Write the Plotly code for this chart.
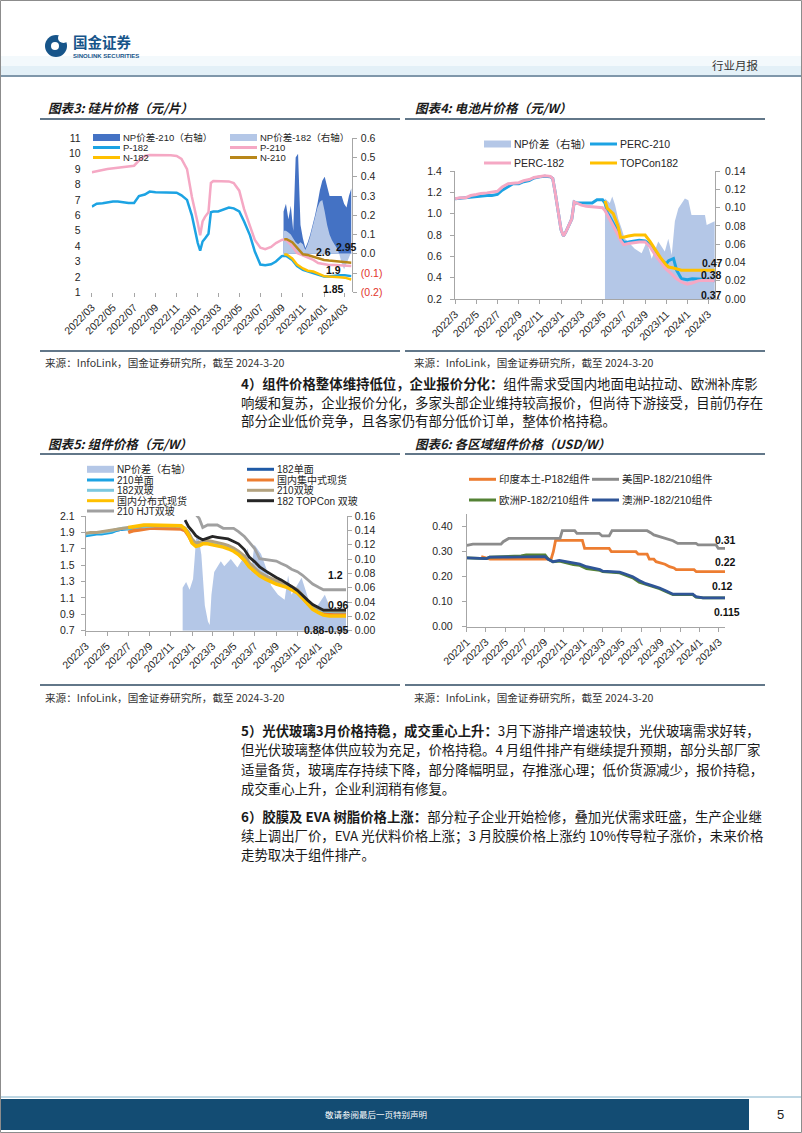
import plotly.graph_objects as go

W, H = 802, 1133


def X(px):
    return px / W


def Y(py):
    return 1 - py / H


LAT = "Liberation Sans, Arial, Noto Sans CJK SC, sans-serif"
CJK = "Noto Sans CJK SC, Noto Sans, sans-serif"
AX = "#A6A6A6"
TXT = "#262626"
RED = "#E2332B"

# ---------------- 图表3：硅片价格（元/片） ----------------
wafer_dates = [
    "2022-03-01", "2022-03-15", "2022-04-01", "2022-04-15", "2022-05-01", "2022-05-15",
    "2022-06-01", "2022-06-15", "2022-07-01", "2022-07-15", "2022-08-01", "2022-08-15",
    "2022-09-01", "2022-09-15", "2022-10-01", "2022-10-15", "2022-11-01", "2022-11-15",
    "2022-12-01", "2022-12-15",
    "2023-01-01", "2023-01-08", "2023-01-15", "2023-01-22", "2023-02-01", "2023-02-08",
    "2023-02-15", "2023-03-01", "2023-03-15", "2023-04-01", "2023-04-15", "2023-05-01",
    "2023-05-15", "2023-06-01", "2023-06-15", "2023-07-01", "2023-07-15", "2023-08-01",
    "2023-08-15", "2023-09-01", "2023-09-08", "2023-09-15", "2023-10-01", "2023-10-15",
    "2023-11-01", "2023-11-15", "2023-12-01", "2023-12-15",
    "2024-01-01", "2024-01-15", "2024-02-01", "2024-02-15", "2024-03-01", "2024-03-20",
]
wafer_p182 = [
    6.56, 6.75, 6.78, 6.84, 6.90, 6.90, 6.84, 6.80, 6.80, 7.25, 7.35, 7.54, 7.50, 7.50,
    7.50, 7.48, 7.47, 7.30, 7.00, 6.00,
    4.20, 3.70, 4.30, 4.50, 4.80, 6.20, 6.25, 6.25, 6.35, 6.50, 6.45, 6.25, 5.60, 4.70,
    3.65, 2.80, 2.75, 2.82, 3.00, 3.35, 3.38, 3.35, 3.10, 2.70, 2.45, 2.35, 2.25, 2.10,
    2.02, 2.02, 2.08, 2.10, 2.10, 2.05,
]
wafer_p210 = [
    8.79, 8.88, 8.94, 9.00, 9.05, 9.10, 9.16, 9.20, 9.22, 9.55, 9.85, 9.92, 9.92, 9.92,
    9.92, 9.90, 9.85, 9.66, 9.00, 7.20,
    5.50, 4.70, 5.60, 5.90, 6.20, 8.10, 8.23, 8.23, 8.23, 8.20, 8.10, 7.60, 6.40, 5.30,
    4.40, 3.90, 3.80, 3.95, 4.20, 4.40, 4.42, 4.35, 4.00, 3.55, 3.40, 3.25, 3.10, 2.90,
    2.82, 2.78, 2.78, 2.75, 2.73, 2.70,
]
wafer_n182 = [None] * 40 + [
    3.45, 3.45, 3.20, 2.80, 2.55, 2.40, 2.35, 2.22,
    2.05, 2.02, 2.02, 1.98, 1.95, 1.83,
]
wafer_n210 = [None] * 40 + [
    4.45, 4.45, 4.25, 3.90, 3.47, 3.42, 3.32, 3.20,
    3.10, 3.06, 3.03, 3.00, 2.98, 2.92,
]
wafer_np_dates = [
    "2023-09-06", "2023-09-13", "2023-09-20", "2023-09-27", "2023-10-04", "2023-10-11",
    "2023-10-18", "2023-10-25", "2023-11-01", "2023-11-08", "2023-11-15", "2023-11-22",
    "2023-11-29", "2023-12-06", "2023-12-13", "2023-12-20", "2023-12-27", "2024-01-03",
    "2024-01-10", "2024-01-17", "2024-01-24", "2024-01-31", "2024-02-07", "2024-02-14",
    "2024-02-21", "2024-02-28", "2024-03-06", "2024-03-13", "2024-03-20",
]
wafer_np210 = [
    0.22, 0.26, 0.18, 0.25, 0.12, 0.50, 0.52, 0.15, 0.08, 0.03, 0.06, 0.10, 0.15, 0.20,
    0.26, 0.33, 0.38, 0.40, 0.35, 0.30, 0.30, 0.30, 0.30, 0.30, 0.30, 0.26, 0.24, 0.30, 0.34,
]
wafer_np182 = [
    0.12, 0.12, 0.11, 0.10, 0.08, 0.06, 0.05, 0.06, 0.05, 0.02, 0.05, 0.09, 0.14, 0.19,
    0.24, 0.27, 0.28, 0.22, 0.15, 0.10, 0.07, 0.05, 0.03, 0.00, -0.05, -0.08, -0.05, -0.02, 0.01,
]
wafer_left_ticks = [1, 2, 3, 4, 5, 6, 7, 8, 9, 10, 11]
wafer_right_ticks = [-0.2, -0.1, 0.0, 0.1, 0.2, 0.3, 0.4, 0.5, 0.6]
wafer_right_labels = ["(0.2)", "(0.1)", "0.0", "0.1", "0.2", "0.3", "0.4", "0.5", "0.6"]

# ---------------- 图表4：电池片价格（元/W） ----------------
cell_dates = [
    "2022-03-01", "2022-03-15", "2022-04-01", "2022-04-15", "2022-05-01", "2022-05-15",
    "2022-06-01", "2022-06-15", "2022-07-01", "2022-07-15", "2022-08-01", "2022-08-15",
    "2022-09-01", "2022-09-15", "2022-10-01", "2022-10-15", "2022-11-01", "2022-11-15",
    "2022-12-01", "2022-12-08", "2022-12-15", "2022-12-22",
    "2023-01-01", "2023-01-08", "2023-01-15", "2023-02-01", "2023-02-08", "2023-02-15",
    "2023-03-01", "2023-03-15", "2023-04-01", "2023-04-15", "2023-05-01", "2023-05-08",
    "2023-05-15", "2023-06-01", "2023-06-15", "2023-06-22", "2023-07-01", "2023-07-15",
    "2023-08-01", "2023-08-15", "2023-09-01", "2023-09-15", "2023-10-01", "2023-10-15",
    "2023-11-01", "2023-11-08", "2023-11-22", "2023-12-01", "2023-12-15",
    "2024-01-01", "2024-01-15", "2024-02-01", "2024-02-15", "2024-03-01", "2024-03-20",
]
cell_perc210 = [
    1.14, 1.145, 1.15, 1.16, 1.165, 1.17, 1.17, 1.17, 1.18, 1.22, 1.25, 1.28, 1.28, 1.30,
    1.31, 1.335, 1.345, 1.35, 1.345, 1.33, 1.20, 1.05,
    0.85, 0.79, 0.83, 0.95, 1.11, 1.10, 1.10, 1.10, 1.10, 1.13, 1.13, 1.10, 1.01, 0.91,
    0.83, 0.77, 0.73, 0.735, 0.745, 0.75, 0.745, 0.71, 0.63, 0.57, 0.53, 0.56, 0.58, 0.47, 0.39,
    0.38, 0.39, 0.39, 0.385, 0.38, 0.37,
]
cell_perc182 = [
    1.14, 1.15, 1.15, 1.17, 1.18, 1.19, 1.195, 1.20, 1.21, 1.25, 1.28, 1.285, 1.29, 1.31,
    1.32, 1.34, 1.35, 1.355, 1.35, 1.33, 1.20, 1.05,
    0.85, 0.79, 0.83, 0.95, 1.11, 1.10, 1.08, 1.07, 1.065, 1.06, 1.055, 1.03, 0.99, 0.89,
    0.80, 0.75, 0.71, 0.72, 0.73, 0.735, 0.735, 0.69, 0.61, 0.55, 0.48, 0.46, 0.42, 0.39, 0.36,
    0.34, 0.35, 0.37, 0.375, 0.375, 0.37,
]
cell_topcon = [None] * 33 + [
    1.12, 1.05, 1.00, 0.88, 0.78, 0.78, 0.79, 0.80, 0.80, 0.80, 0.74, 0.66, 0.59, 0.52,
    0.50, 0.49, 0.48, 0.47,
    0.47, 0.47, 0.47, 0.47, 0.47, 0.47,
]
cell_np_dates = [
    "2023-05-08", "2023-05-22", "2023-05-29", "2023-06-06", "2023-06-15", "2023-06-25",
    "2023-07-04", "2023-07-13", "2023-08-02", "2023-08-22", "2023-09-06", "2023-09-20",
    "2023-10-09", "2023-10-28", "2023-11-07", "2023-11-17", "2023-11-26", "2023-12-06",
    "2023-12-25", "2024-01-04", "2024-01-13", "2024-02-21", "2024-02-26", "2024-03-20",
]
cell_np = [
    0.110, 0.105, 0.112, 0.103, 0.088, 0.077, 0.066, 0.063, 0.055, 0.050, 0.063, 0.044,
    0.063, 0.052, 0.066, 0.048, 0.085, 0.099, 0.110, 0.108, 0.092, 0.092, 0.081, 0.085,
]
cell_left_ticks = [0.2, 0.4, 0.6, 0.8, 1.0, 1.2, 1.4]
cell_left_labels = ["0.2", "0.4", "0.6", "0.8", "1.0", "1.2", "1.4"]
cell_right_ticks = [0.0, 0.02, 0.04, 0.06, 0.08, 0.10, 0.12, 0.14]
cell_right_labels = ["0.00", "0.02", "0.04", "0.06", "0.08", "0.10", "0.12", "0.14"]

# ---------------- 图表5：组件价格（元/W） ----------------
mod_dates = [
    "2022-03-01", "2022-03-15", "2022-04-01", "2022-04-15", "2022-05-01", "2022-05-15",
    "2022-06-01", "2022-06-15", "2022-07-01", "2022-07-15", "2022-08-01", "2022-08-15",
    "2022-09-01", "2022-09-15", "2022-10-01", "2022-10-15", "2022-11-01", "2022-11-15",
    "2022-12-01", "2022-12-12", "2022-12-22",
    "2023-01-01", "2023-01-12", "2023-01-22", "2023-02-01", "2023-02-15", "2023-03-01",
    "2023-03-15", "2023-04-01", "2023-04-15", "2023-05-01", "2023-05-15", "2023-06-01",
    "2023-06-15", "2023-07-01", "2023-07-15", "2023-08-01", "2023-08-15", "2023-09-01",
    "2023-09-15", "2023-10-01", "2023-10-15", "2023-11-01", "2023-11-15", "2023-12-01",
    "2023-12-15",
    "2024-01-01", "2024-01-15", "2024-02-01", "2024-02-15", "2024-03-01", "2024-03-20",
]
mod_182_mono = [
    1.88, 1.89, 1.89, 1.90, 1.91, 1.92, 1.93, 1.94, 1.95, 1.95, 1.96, 1.97, 1.97, 1.97,
    1.97, 1.97, 1.97, 1.97, 1.96, 1.94, 1.88,
    1.80, 1.75, 1.76, 1.78, 1.78, 1.77, 1.76, 1.74, 1.72, 1.69, 1.65, 1.59, 1.51, 1.44,
    1.39, 1.35, 1.32, 1.29, 1.27, 1.25, 1.22, 1.18, 1.12, 1.04, 0.99,
    0.95, 0.93, 0.92, 0.92, 0.92, 0.92,
]
mod_210_mono = [
    1.86, 1.87, 1.88, 1.88, 1.89, 1.90, 1.93, 1.94, 1.94, 1.95, 1.96, 1.96, 1.97, 1.97,
    1.97, 1.97, 1.97, 1.97, 1.96, 1.94, 1.88,
    1.80, 1.75, 1.76, 1.78, 1.78, 1.77, 1.76, 1.74, 1.72, 1.69, 1.65, 1.59, 1.51, 1.44,
    1.39, 1.35, 1.32, 1.29, 1.27, 1.25, 1.22, 1.18, 1.12, 1.04, 0.99,
    0.95, 0.93, 0.92, 0.92, 0.92, 0.92,
]
mod_central = [None] * 8 + [
    1.90, 1.92, 1.93, 1.94, 1.95, 1.95, 1.95, 1.95, 1.95, 1.95, 1.94, 1.92, 1.86,
    1.78, 1.74, 1.75, 1.77, 1.77, 1.76, 1.75, 1.73, 1.71, 1.68, 1.64, 1.57, 1.49, 1.43,
    1.38, 1.34, 1.31, 1.28, 1.26, 1.24, 1.21, 1.17, 1.11, 1.03, 0.98,
    0.94, 0.91, 0.90, 0.90, 0.90, 0.90,
]
mod_182_bifacial = [
    1.88, 1.89, 1.90, 1.90, 1.91, 1.92, 1.94, 1.95, 1.95, 1.96, 1.97, 1.97, 1.98, 1.98,
    1.98, 1.98, 1.98, 1.98, 1.97, 1.95, 1.89,
    1.81, 1.76, 1.77, 1.79, 1.79, 1.78, 1.77, 1.75, 1.73, 1.70, 1.66, 1.60, 1.52, 1.45,
    1.40, 1.36, 1.33, 1.30, 1.28, 1.26, 1.23, 1.19, 1.13, 1.05, 1.00,
    0.96, 0.94, 0.93, 0.93, 0.93, 0.93,
]
mod_210_bifacial = [
    1.89, 1.90, 1.90, 1.91, 1.92, 1.93, 1.94, 1.95, 1.96, 1.96, 1.97, 1.98, 1.98, 1.98,
    1.98, 1.98, 1.98, 1.98, 1.97, 1.95, 1.90,
    1.82, 1.77, 1.78, 1.79, 1.80, 1.79, 1.78, 1.76, 1.74, 1.71, 1.67, 1.61, 1.53, 1.46,
    1.41, 1.37, 1.34, 1.31, 1.29, 1.27, 1.24, 1.20, 1.14, 1.06, 1.01,
    0.97, 0.95, 0.94, 0.94, 0.94, 0.94,
]
mod_distributed = [None] * 8 + [
    1.96, 1.97, 1.98, 1.99, 1.99, 1.99, 1.99, 1.99, 1.99, 1.99, 1.98, 1.94, 1.87,
    1.77, 1.73, 1.74, 1.76, 1.76, 1.75, 1.74, 1.72, 1.70, 1.67, 1.63, 1.56, 1.48, 1.42,
    1.37, 1.33, 1.30, 1.27, 1.25, 1.23, 1.20, 1.16, 1.10, 1.02, 0.96,
    0.92, 0.89, 0.88, 0.88, 0.88, 0.88,
]
mod_topcon = [None] * 19 + [
    2.05, 1.97,
    1.92, 1.86, 1.83, 1.81, 1.83, 1.85, 1.84, 1.83, 1.82, 1.79, 1.76, 1.69, 1.60, 1.54,
    1.48, 1.43, 1.39, 1.35, 1.32, 1.28, 1.24, 1.19, 1.13, 1.07, 1.02,
    0.98, 0.95, 0.95, 0.95, 0.95, 0.95,
]
mod_hjt = [None] * 22 + [
    2.12, 2.07, 1.96, 1.99, 1.99, 1.99, 1.95, 1.95, 1.95, 1.91, 1.85, 1.78, 1.70, 1.58,
    1.57, 1.56, 1.55, 1.52, 1.49, 1.45, 1.42, 1.38, 1.32, 1.27,
    1.23, 1.20, 1.20, 1.20, 1.20, 1.20,
]
mod_np_dates = [
    "2022-12-05", "2022-12-15", "2022-12-25", "2023-01-04", "2023-01-08", "2023-01-13",
    "2023-01-19", "2023-01-28", "2023-02-02", "2023-02-07", "2023-02-16", "2023-02-21",
    "2023-02-26", "2023-03-06", "2023-03-25", "2023-04-04", "2023-04-23", "2023-05-12",
    "2023-06-01", "2023-06-11", "2023-06-20", "2023-06-30", "2023-07-19", "2023-08-07",
    "2023-08-17", "2023-09-06", "2023-09-25", "2023-10-05", "2023-10-15", "2023-11-13",
    "2023-12-02", "2023-12-22", "2024-01-19", "2024-02-09", "2024-03-20",
]
mod_np = [
    0.060, 0.068, 0.057, 0.072, 0.097, 0.130, 0.133, 0.106, 0.070, 0.035, 0.013, 0.008,
    0.050, 0.082, 0.097, 0.090, 0.100, 0.088, 0.104, 0.115, 0.082, 0.120, 0.107, 0.082,
    0.063, 0.050, 0.043, 0.077, 0.050, 0.074, 0.045, 0.030, 0.050, 0.025, 0.025,
]
mod_left_ticks = [0.7, 0.9, 1.1, 1.3, 1.5, 1.7, 1.9, 2.1]
mod_left_labels = ["0.7", "0.9", "1.1", "1.3", "1.5", "1.7", "1.9", "2.1"]
mod_right_ticks = [0.0, 0.02, 0.04, 0.06, 0.08, 0.10, 0.12, 0.14, 0.16]
mod_right_labels = ["0.00", "0.02", "0.04", "0.06", "0.08", "0.10", "0.12", "0.14", "0.16"]

# ---------------- 图表6：各区域组件价格（USD/W） ----------------
reg_india_dates = [
    "2022-02-15", "2022-03-01", "2022-03-15", "2022-09-22", "2022-09-29", "2022-10-06",
    "2022-12-29", "2023-01-05", "2023-03-23", "2023-03-30", "2023-06-15", "2023-06-22",
    "2023-07-20", "2023-07-27", "2023-08-10", "2023-08-17", "2023-08-31", "2023-09-14",
    "2023-09-28", "2023-10-12", "2023-10-19", "2023-12-14", "2023-12-21", "2024-03-20",
]
reg_india = [
    0.28, 0.275, 0.27, 0.27, 0.30, 0.345, 0.345, 0.313, 0.313, 0.30, 0.30, 0.29,
    0.29, 0.27, 0.27, 0.26, 0.255, 0.25, 0.24, 0.235, 0.228, 0.228, 0.22, 0.22,
]
reg_usa_dates = [
    "2022-01-01", "2022-01-20", "2022-04-18", "2022-04-25", "2022-05-12", "2022-10-20",
    "2022-10-27", "2022-12-05", "2022-12-12", "2023-02-20", "2023-03-01", "2023-03-23",
    "2023-04-01", "2023-07-20", "2023-07-31", "2023-08-10", "2023-08-28", "2023-09-18",
    "2023-10-09", "2023-10-24", "2023-12-20", "2023-12-27", "2024-02-21", "2024-02-28",
    "2024-03-20",
]
reg_usa = [
    0.325, 0.33, 0.33, 0.34, 0.353, 0.353, 0.384, 0.384, 0.373, 0.373, 0.363, 0.363,
    0.384, 0.384, 0.376, 0.367, 0.36, 0.353, 0.344, 0.333, 0.333, 0.327, 0.327, 0.313,
    0.313,
]
reg_eu_au_dates = [
    "2022-01-01", "2022-02-01", "2022-03-03", "2022-03-13", "2022-05-14", "2022-06-20",
    "2022-07-06", "2022-09-03", "2022-09-13", "2022-09-28", "2022-10-18", "2022-11-09",
    "2022-12-01", "2022-12-21", "2023-01-11", "2023-02-22", "2023-03-03", "2023-04-25",
    "2023-05-15", "2023-06-05", "2023-06-25", "2023-07-16", "2023-08-07", "2023-08-28",
    "2023-09-18", "2023-10-09", "2023-12-10", "2023-12-20", "2024-01-11", "2024-03-20",
]
reg_eu = [
    0.275, 0.272, 0.272, 0.278, 0.28, 0.283, 0.287, 0.287, 0.27, 0.26, 0.262, 0.255,
    0.248, 0.245, 0.232, 0.225, 0.22, 0.215, 0.205, 0.195, 0.178, 0.17, 0.16, 0.152,
    0.14, 0.128, 0.128, 0.118, 0.115, 0.115,
]
reg_au = [
    0.275, 0.272, 0.272, 0.278, 0.278, 0.278, 0.279, 0.28, 0.27, 0.26, 0.265, 0.26,
    0.255, 0.25, 0.24, 0.228, 0.222, 0.218, 0.21, 0.20, 0.185, 0.172, 0.163, 0.155,
    0.143, 0.13, 0.13, 0.12, 0.115, 0.115,
]
reg_ticks = [0.0, 0.1, 0.2, 0.3, 0.4]
reg_labels = ["0.00", "0.10", "0.20", "0.30", "0.40"]

# =====================================================================
fig = go.Figure()


def area(x, y, color, name, xa, ya):
    fig.add_trace(go.Scatter(x=x, y=y, name=name, mode="none", fill="tozeroy",
                             fillcolor=color, xaxis=xa, yaxis=ya, hoverinfo="skip"))


def line(x, y, color, name, xa, ya, width=2.5):
    fig.add_trace(go.Scatter(x=x, y=y, name=name, mode="lines",
                             line=dict(color=color, width=width),
                             xaxis=xa, yaxis=ya, connectgaps=False))


C = dict(
    np_dark="#4472C4", np_light="#B4C7E7", sky="#1CA3E3", pink="#F5A8C4",
    yellow="#FFC000", brown="#B8871A", navy="#1F5AA6", orange="#ED7D31",
    teal="#7CC8DF", tan="#B3A27F", black="#262626", gray="#A0A0A0",
    usgray="#8C8C8C", green="#548235", aublue="#2F5597",
)

# chart 图表3
area(wafer_np_dates, wafer_np210, C["np_dark"], "NP价差-210（右轴）", "x", "y")
area(wafer_np_dates, wafer_np182, C["np_light"], "NP价差-182（右轴）", "x", "y")
line(wafer_dates, wafer_p182, C["sky"], "P-182", "x", "y2")
line(wafer_dates, wafer_p210, C["pink"], "P-210", "x", "y2")
line(wafer_dates, wafer_n182, C["yellow"], "N-182", "x", "y2")
line(wafer_dates, wafer_n210, C["brown"], "N-210", "x", "y2")

# chart 图表4
area(cell_np_dates, cell_np, C["np_light"], "NP价差（右轴）", "x2", "y3")
line(cell_dates, cell_perc210, C["sky"], "PERC-210", "x2", "y4", 3)
line(cell_dates, cell_perc182, C["pink"], "PERC-182", "x2", "y4", 3)
line(cell_dates, cell_topcon, C["yellow"], "TOPCon182", "x2", "y4", 3)

# chart 图表5
area(mod_np_dates, mod_np, C["np_light"], "NP价差（右轴）", "x3", "y5")
line(mod_dates, mod_182_mono, C["navy"], "182单面", "x3", "y6", 3)
line(mod_dates, mod_210_mono, C["sky"], "210单面", "x3", "y6", 3)
line(mod_dates, mod_central, C["orange"], "国内集中式现货", "x3", "y6", 3.5)
line(mod_dates, mod_182_bifacial, C["teal"], "182双玻", "x3", "y6", 3)
line(mod_dates, mod_210_bifacial, C["tan"], "210双玻", "x3", "y6", 3)
line(mod_dates, mod_distributed, C["yellow"], "国内分布式现货", "x3", "y6", 3.5)
line(mod_dates, mod_topcon, C["black"], "182 TOPCon 双玻", "x3", "y6", 2.8)
line(mod_dates, mod_hjt, C["gray"], "210 HJT双玻", "x3", "y6", 2.8)

# chart 图表6
line(reg_india_dates, reg_india, C["orange"], "印度本土-P182组件", "x4", "y7", 2.8)
line(reg_usa_dates, reg_usa, C["usgray"], "美国P-182/210组件", "x4", "y7", 2.8)
line(reg_eu_au_dates, reg_eu, C["green"], "欧洲P-182/210组件", "x4", "y7", 2.8)
line(reg_eu_au_dates, reg_au, C["aublue"], "澳洲P-182/210组件", "x4", "y7", 2.8)


def xaxis_date(x0, x1, anchor, rng, tick0, fmt, showline=True):
    return dict(domain=[X(x0), X(x1)], anchor=anchor, type="date", range=rng,
                tickmode="linear", tick0=tick0, dtick="M2", tickformat=fmt,
                tickangle=-45, ticks="outside", ticklen=4, tickcolor=AX,
                showline=showline, linecolor=AX, linewidth=1, showgrid=False,
                zeroline=False, automargin=False,
                tickfont=dict(family=LAT, size=10.5, color=TXT))


def yaxis_num(anchor, side, rng, vals, texts, domain=None, overlay=None,
              showline=True, standoff=2, tickcolor=AX, ticklen=4):
    d = dict(anchor=anchor, side=side, range=rng, tickmode="array", tickvals=vals,
             ticktext=texts, ticks="outside", ticklen=ticklen, tickcolor=tickcolor,
             showline=showline, linecolor=AX, linewidth=1, showgrid=False,
             zeroline=False, ticklabelstandoff=standoff, automargin=False,
             tickfont=dict(family=LAT, size=10.5, color=TXT))
    if overlay:
        d["overlaying"] = overlay
    else:
        d["domain"] = [Y(domain[0]), Y(domain[1])]
    return d


eps = 1e-6
wafer_right_text = [
    ("<span style='color:%s'>%s</span>" % (RED, s)) if v < 0 else s
    for v, s in zip(wafer_right_ticks, wafer_right_labels)
]

layout = dict(
    width=W, height=H,
    margin=dict(l=0, r=0, t=0, b=0, pad=0, autoexpand=False),
    paper_bgcolor="white", plot_bgcolor="rgba(0,0,0,0)", showlegend=False,
    font=dict(family=LAT, color=TXT),
    xaxis=xaxis_date(91.7, 351.7, "y", ["2022-02-28 12:00", "2024-03-21"],
                     "2022-03-01", "%Y/%m", showline=False),
    yaxis=yaxis_num("x", "right", [-0.2 - eps, 0.6 + eps], wafer_right_ticks,
                    wafer_right_text, domain=(292.3, 138.3)),
    yaxis2=yaxis_num("x", "left", [1 - eps, 11 + eps], wafer_left_ticks,
                     [str(v) for v in wafer_left_ticks], overlay="y", showline=False,
                     tickcolor="rgba(0,0,0,0)", ticklen=5, standoff=3),
    xaxis2=xaxis_date(455, 715, "y3", ["2022-02-28 12:00", "2024-03-21"],
                      "2022-03-01", "%Y/%-m"),
    yaxis3=yaxis_num("x2", "right", [0 - eps, 0.14 + eps], cell_right_ticks,
                     cell_right_labels, domain=(299, 171), standoff=3),
    yaxis4=yaxis_num("x2", "left", [0.2 - eps, 1.4 + eps], cell_left_ticks,
                     cell_left_labels, overlay="y3", standoff=6),
    xaxis3=xaxis_date(85.7, 346.7, "y5", ["2022-02-28 12:00", "2024-03-22"],
                      "2022-03-01", "%Y/%-m"),
    yaxis5=yaxis_num("x3", "right", [0 - eps, 0.16 + eps], mod_right_ticks,
                     mod_right_labels, domain=(630.7, 516), standoff=1),
    yaxis6=yaxis_num("x3", "left", [0.7 - eps, 2.1 + eps], mod_left_ticks,
                     mod_left_labels, overlay="y5", standoff=4),
    xaxis4=xaxis_date(466.7, 725, "y7", ["2021-12-31 12:00", "2024-03-20"],
                      "2022-01-01", "%Y/%-m"),
    yaxis7=yaxis_num("x4", "left", [0 - eps, 0.45], reg_ticks, reg_labels,
                     domain=(626.7, 514.2), standoff=7),
)

shapes = []
annots = []


def seg(x0, y0, x1, y1, color, width):
    shapes.append(dict(type="line", xref="paper", yref="paper", x0=X(x0), y0=Y(y0),
                       x1=X(x1), y1=Y(y1), line=dict(color=color, width=width),
                       layer="above"))


def box(x0, y0, x1, y1, fill, line_color=None, line_width=0, kind="rect"):
    shapes.append(dict(type=kind, xref="paper", yref="paper", x0=X(x0), y0=Y(y1),
                       x1=X(x1), y1=Y(y0), fillcolor=fill,
                       line=dict(color=line_color or fill, width=line_width),
                       layer="above"))


def label(x, y, s, size, color=TXT, family=CJK, xanchor="left", yanchor="middle"):
    annots.append(dict(xref="paper", yref="paper", x=X(x), y=Y(y), text=s,
                       showarrow=False, xanchor=xanchor, yanchor=yanchor,
                       borderpad=0, font=dict(size=size, color=color, family=family)))


def leg(x, y, s, color, kind="line", size=10.5):
    if kind == "line":
        seg(x, y, x + 27, y, color, 3)
    else:
        box(x, y - 3.5, x + 27, y + 3.5, color)
    label(x + 29, y, s, size, TXT, LAT)


# ---- page frame / header ----
shapes.append(dict(type="rect", xref="paper", yref="paper", x0=X(0.5), x1=X(801.5),
                   y0=Y(1132.5), y1=Y(0.5), line=dict(color="#8C8C8C", width=1),
                   fillcolor="rgba(0,0,0,0)", layer="below"))
box(1, 56, 801, 66, "#F3F9FC")
box(1, 66, 801, 75, "#E3F0F7")
seg(1, 76, 801, 76, "#7F97AA", 2)
box(45, 35, 67, 57, "#17558A", kind="circle")
box(58, 33, 69, 43, "white", kind="circle")
box(51, 42, 59, 50, "white", kind="circle")
label(72, 41.5, "<b>国金证券</b>", 14.5, "#17558A", CJK)
label(72, 56, "<b>SINOLINK SECURITIES</b>", 6, "#17558A", LAT)
label(760, 65, "行业月报", 11.5, "#333333", CJK, xanchor="right")

# ---- chart frames ----
FRAME = "#2E4A62"
for (x0, x1, ty, by) in [(40, 400, 119, 351), (405, 765, 119, 351),
                         (40, 400, 454, 685), (405, 765, 454, 685)]:
    seg(x0, ty, x1, ty, FRAME, 1.5)
    seg(x0, by, x1, by, FRAME, 1.5)

TSZ = 12.6
label(47, 108, "<b><i>图表3: 硅片价格（元/片）</i></b>", TSZ, "#1a1a1a")
label(414, 108, "<b><i>图表4: 电池片价格（元/W）</i></b>", TSZ, "#1a1a1a")
label(47, 443, "<b><i>图表5: 组件价格（元/W）</i></b>", TSZ, "#1a1a1a")
label(414, 443, "<b><i>图表6: 各区域组件价格（USD/W）</i></b>", TSZ, "#1a1a1a")

SRC = "来源：InfoLink，国金证券研究所，截至 2024-3-20"
label(44, 362, SRC, 10.6, "#333333")
label(413, 362, SRC, 10.6, "#333333")
label(44, 697, SRC, 10.6, "#333333")
label(413, 697, SRC, 10.6, "#333333")

# ---- legends ----
leg(93, 137.5, "NP价差-210（右轴）", C["np_dark"], "rect", 9.5)
leg(230, 137.5, "NP价差-182（右轴）", C["np_light"], "rect", 9.5)
leg(93, 147.5, "P-182", C["sky"], size=9.5)
leg(230, 147.5, "P-210", C["pink"], size=9.5)
leg(93, 157.5, "N-182", C["yellow"], size=9.5)
leg(230, 157.5, "N-210", C["brown"], size=9.5)

leg(484, 144, "NP价差（右轴）", C["np_light"], "rect")
leg(590, 144, "PERC-210", C["sky"])
leg(484, 163, "PERC-182", C["pink"])
leg(590, 163, "TOPCon182", C["yellow"])

leg(87, 469.3, "NP价差（右轴）", C["np_light"], "rect", 10)
leg(247, 469.3, "182单面", C["navy"], size=10)
leg(87, 480, "210单面", C["sky"], size=10)
leg(247, 480, "国内集中式现货", C["orange"], size=10)
leg(87, 490.3, "182双玻", C["teal"], size=10)
leg(247, 490.3, "210双玻", C["tan"], size=10)
leg(87, 500.7, "国内分布式现货", C["yellow"], size=10)
leg(247, 500.7, "182 TOPCon 双玻", C["black"], size=10)
leg(87, 511, "210 HJT双玻", C["gray"], size=10)

leg(469, 479.3, "印度本土-P182组件", C["orange"])
leg(592, 479.3, "美国P-182/210组件", C["usgray"])
leg(469, 500, "欧洲P-182/210组件", C["green"])
leg(592, 500, "澳洲P-182/210组件", C["aublue"])

# ---- value labels ----
for (x, y, s) in [(323.5, 252, "2.6"), (346, 246.5, "2.95"), (333.5, 270, "1.9"),
                  (333.5, 289, "1.85"),
                  (712, 263, "0.47"), (711, 275, "0.38"), (711.5, 295, "0.37"),
                  (335, 574.5, "1.2"), (338, 605, "0.96"), (326.7, 629.5, "0.88-0.95"),
                  (725, 539.5, "0.31"), (725.5, 561.7, "0.22"), (722, 585.7, "0.12"),
                  (726.5, 611.7, "0.115")]:
    label(x, y, "<b>%s</b>" % s, 10.5, "#111111", LAT, xanchor="center")

# ---- body text ----
BODY = "#1a1a1a"
TX = 240
PSZ = 13.4
para_lines = [
    (383, "<b>4）组件价格整体维持低位，企业报价分化：</b>组件需求受国内地面电站拉动、欧洲补库影"),
    (401.5, "响缓和复苏，企业报价分化，多家头部企业维持较高报价，但尚待下游接受，目前仍存在"),
    (420, "部分企业低价竞争，且各家仍有部分低价订单，整体价格持稳。"),
    (730, "<b>5）光伏玻璃3月价格持稳，成交重心上升：</b>3月下游排产增速较快，光伏玻璃需求好转，"),
    (749.3, "但光伏玻璃整体供应较为充足，价格持稳。4 月组件排产有继续提升预期，部分头部厂家"),
    (768.6, "适量备货，玻璃库存持续下降，部分降幅明显，存推涨心理；低价货源减少，报价持稳，"),
    (788, "成交重心上升，企业利润稍有修复。"),
    (815.5, "<b>6）胶膜及 EVA 树脂价格上涨：</b>部分粒子企业开始检修，叠加光伏需求旺盛，生产企业继"),
    (834.8, "续上调出厂价，EVA 光伏料价格上涨；3 月胶膜价格上涨约 10%传导粒子涨价，未来价格"),
    (854, "走势取决于组件排产。"),
]
for (y, s) in para_lines:
    label(TX, y, s, PSZ, BODY, CJK)

# ---- footer ----
seg(1, 1097, 801, 1097, "#A9CADB", 1.5)
box(1, 1099, 749, 1130, "#134C73")
label(376, 1114, "敬请参阅最后一页特别声明", 8.5, "white", CJK, xanchor="center")
label(780, 1114, "5", 13, "#222222", LAT, xanchor="center")

layout["shapes"] = shapes
layout["annotations"] = annots
fig.update_layout(**layout)
fig.write_html("out.html")
